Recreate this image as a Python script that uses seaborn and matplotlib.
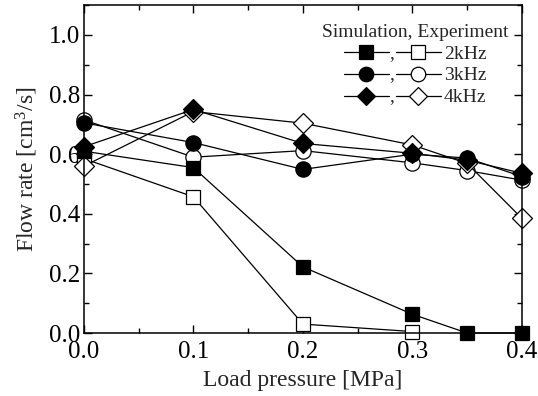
import matplotlib
matplotlib.use("Agg")
import matplotlib.pyplot as plt
from matplotlib.lines import Line2D
from matplotlib.text import Text
from matplotlib.legend_handler import HandlerBase
from matplotlib.ticker import MultipleLocator, FormatStrFormatter
import seaborn as sns
import pandas as pd

sns.set_theme(style="ticks")
plt.rcParams["font.family"] = ["Liberation Serif", "DejaVu Serif"]
plt.rcParams["mathtext.fontset"] = "custom"
plt.rcParams["mathtext.rm"] = "Liberation Serif"
plt.rcParams["mathtext.default"] = "regular"

# Load pressure [MPa]
pressure = [0.0, 0.1, 0.2, 0.3, 0.35, 0.4]
pressure_exp2 = [0.0, 0.1, 0.2, 0.3]

# Flow rate [cm^3/s]
sim_2khz = [0.61, 0.555, 0.222, 0.063, 0.0, 0.0]
exp_2khz = [0.585, 0.457, 0.03, 0.005]
sim_3khz = [0.705, 0.639, 0.549, 0.600, 0.587, 0.525]
exp_3khz = [0.715, 0.590, 0.612, 0.571, 0.545, 0.513]
sim_4khz = [0.625, 0.750, 0.636, 0.603, 0.580, 0.536]
exp_4khz = [0.560, 0.743, 0.704, 0.631, 0.569, 0.385]

freq_labels = ["2kHz", "3kHz", "4kHz"]

series = [
    (pressure_exp2, exp_2khz, "s", False),
    (pressure, exp_3khz, "o", False),
    (pressure, exp_4khz, "D", False),
    (pressure, sim_2khz, "s", True),
    (pressure, sim_3khz, "o", True),
    (pressure, sim_4khz, "D", True),
]
marker_size = {"s": 10.5, "o": 11, "D": 10}

fig = plt.figure(figsize=(5.38, 3.96), dpi=100)
ax = fig.add_axes([0.156, 0.159, 0.814, 0.828])

for xs, ys, mk, filled in series:
    df = pd.DataFrame({"p": xs, "q": ys})
    sns.lineplot(
        data=df, x="p", y="q", ax=ax, color="black", linewidth=0.9,
        marker=mk, markersize=marker_size[mk],
        markerfacecolor="black" if filled else "white",
        markeredgecolor="black", markeredgewidth=0.9,
        clip_on=False, estimator=None, sort=False,
    )

ax.set_xlim(0.0, 0.4)
ax.set_ylim(0.0, 1.1)
ax.xaxis.set_major_locator(MultipleLocator(0.1))
ax.xaxis.set_minor_locator(MultipleLocator(0.05))
ax.yaxis.set_major_locator(MultipleLocator(0.2))
ax.yaxis.set_minor_locator(MultipleLocator(0.1))
ax.xaxis.set_major_formatter(FormatStrFormatter("%.1f"))
ax.yaxis.set_major_formatter(FormatStrFormatter("%.1f"))
ax.tick_params(which="both", direction="in", top=True, right=True,
               colors="black", width=1.0, labelsize=18)
ax.tick_params(axis="x", pad=6)
ax.tick_params(axis="y", pad=3)
ax.tick_params(which="major", length=6)
ax.tick_params(which="minor", length=3.5)
for s in ax.spines.values():
    s.set_linewidth(1.1)
    s.set_color("black")

ax.set_xlabel("Load pressure [MPa]", fontsize=17, labelpad=5)
ax.set_ylabel("Flow rate [cm$^3$/s]", fontsize=17, labelpad=6)


class PairHandler(HandlerBase):
    """Draws 'simulation, experiment' marker pair as one legend key."""

    def create_artists(self, legend, orig_handle, xdescent, ydescent,
                       width, height, fontsize, trans):
        mk = orig_handle
        y = height / 2 - ydescent
        gap = 0.35 * fontsize
        seg = (width - gap) / 2
        x0 = -xdescent
        artists = []
        for i, fc in enumerate(["black", "white"]):
            a = x0 + i * (seg + gap)
            b = a + seg
            ln = Line2D([a, (a + b) / 2, b], [y, y, y], color="black",
                        lw=0.9, marker=mk, markevery=[1],
                        markersize=marker_size[mk] * 0.95,
                        markerfacecolor=fc, markeredgecolor="black",
                        markeredgewidth=0.9)
            ln.set_transform(trans)
            artists.append(ln)
        comma = Text(x0 + seg + gap * 0.45, y - 0.3 * fontsize, ",",
                     ha="center", va="baseline", fontsize=fontsize,
                     family=["Liberation Serif"])
        comma.set_transform(trans)
        artists.append(comma)
        return artists


keys = ["s", "o", "D"]
leg = ax.legend(
    keys, freq_labels, handler_map={str: PairHandler()},
    title="Simulation, Experiment", loc="upper right",
    bbox_to_anchor=(1.0, 0.985), frameon=False, fontsize=14,
    title_fontsize=14, handlelength=5.0, handletextpad=0.15,
    labelspacing=0.22, borderpad=0.2, alignment="center",
)

fig.savefig("out.png", dpi=100)
